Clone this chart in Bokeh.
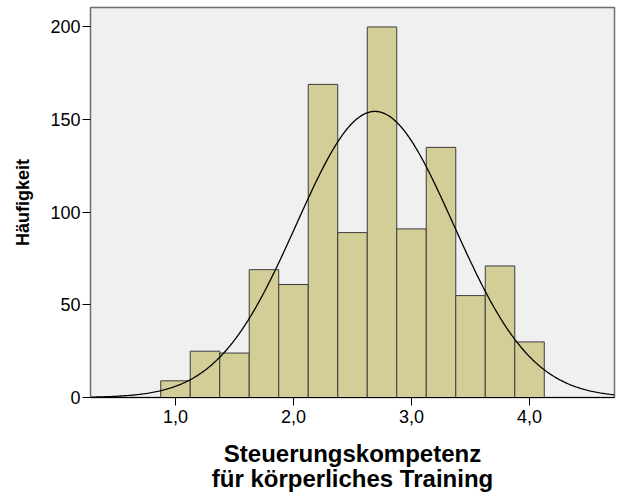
import numpy as np
from bokeh.plotting import figure
from bokeh.models import Range1d, FixedTicker, ColumnDataSource
from bokeh.embed import file_html
from bokeh.resources import INLINE

# Data
bin_centers = [1.0, 1.25, 1.5, 1.75, 2.0, 2.25, 2.5, 2.75, 3.0, 3.25, 3.5, 3.75, 4.0]
counts = [9, 25, 24, 69, 61, 169, 89, 200, 91, 135, 55, 71, 30]
bin_width = 0.25
x_ticks = [1.0, 2.0, 3.0, 4.0]
x_tick_labels = ["1,0", "2,0", "3,0", "4,0"]
y_ticks = [0, 50, 100, 150, 200]
fit_mean = 2.69
fit_sd = 0.664

n_total = sum(counts)

p = figure(width=629, height=504, output_backend="svg", toolbar_location=None,
           x_range=Range1d(0.28, 4.72), y_range=Range1d(0, 210.5),
           min_border_left=90, min_border_right=15, min_border_top=7,
           min_border_bottom=107)

p.background_fill_color = "#F0F0F0"
p.border_fill_color = "white"
p.outline_line_color = "#6E6E6E"
p.outline_line_width = 1.5
p.xgrid.visible = False
p.ygrid.visible = False

src = ColumnDataSource(dict(x=bin_centers, top=counts))
p.vbar(x="x", top="top", width=bin_width, bottom=0, source=src,
       fill_color="#D3CE97", line_color="#3C3C3C", line_width=1)

xs = np.linspace(0.28, 4.72, 400)
ys = n_total * bin_width / (fit_sd * np.sqrt(2 * np.pi)) * np.exp(-0.5 * ((xs - fit_mean) / fit_sd) ** 2)
p.line(xs, ys, line_color="black", line_width=1.3)

font = "Liberation Sans"
p.xaxis.ticker = FixedTicker(ticks=x_ticks)
p.xaxis.major_label_overrides = {t: l for t, l in zip(x_ticks, x_tick_labels)}
p.yaxis.ticker = FixedTicker(ticks=y_ticks)
for ax in (p.xaxis, p.yaxis):
    ax.minor_tick_line_color = None
    ax.major_tick_in = 0
    ax.major_tick_out = 8
    ax.major_tick_line_color = "black"
    ax.major_label_text_font = font
    ax.major_label_text_font_size = "18px"
    ax.major_label_text_color = "black"
    ax.axis_label_text_font = font
    ax.axis_label_text_font_style = "bold"
    ax.axis_label_text_color = "black"
p.xaxis.axis_line_color = "black"
p.yaxis.axis_line_color = "#6E6E6E"
p.xaxis.major_label_standoff = 4
p.yaxis.major_label_standoff = 2

p.yaxis.axis_label = "Häufigkeit"
p.yaxis.axis_label_text_font_size = "18px"
p.yaxis.axis_label_standoff = 14
p.xaxis.axis_label = "Steuerungskompetenz\nfür körperliches Training"
p.xaxis.axis_label_text_font_size = "24px"
p.xaxis.axis_label_standoff = 14
p.xaxis.axis_label_text_line_height = 0.95

open("out.html", "w").write(file_html(p, INLINE))
